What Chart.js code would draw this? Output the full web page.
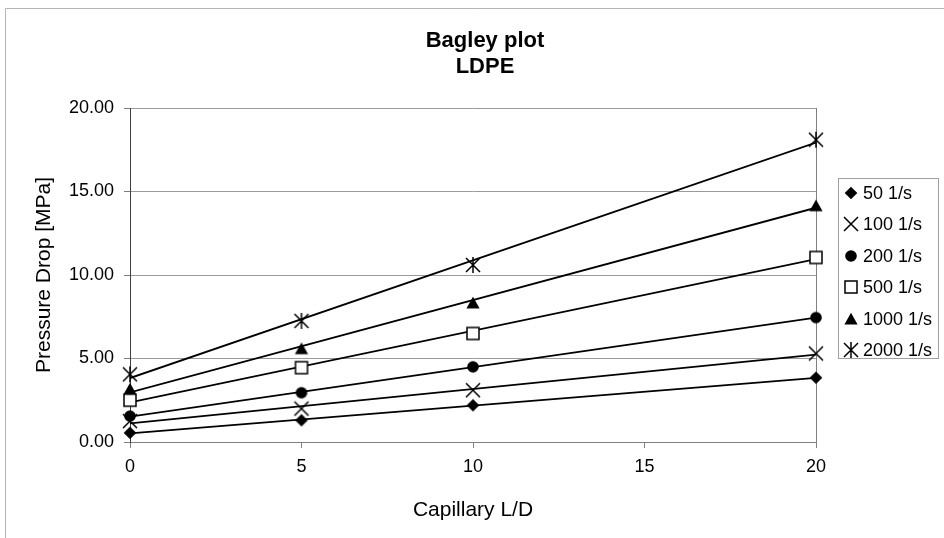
<!DOCTYPE html>
<html>
<head>
<meta charset="utf-8">
<title>Bagley plot LDPE</title>
<script src="https://cdn.jsdelivr.net/npm/chart.js@4/dist/chart.umd.min.js"></script>
<style>
  html, body { margin: 0; padding: 0; background: #fff; }
  canvas { display: block; }
</style>
</head>
<body>
<canvas id="bagley" width="944" height="538"></canvas>
<script>
// Capillary length-to-diameter ratios
const ldRatio = [0, 5, 10, 20];

// Series names (apparent shear rate)
const shearRates = ['50 1/s', '100 1/s', '200 1/s', '500 1/s', '1000 1/s', '2000 1/s'];

// Measured pressure drop [MPa] at each L/D
const p50   = [0.55, 1.30, 2.20, 3.85];
const p100  = [1.25, 2.00, 3.10, 5.30];
const p200  = [1.55, 2.95, 4.50, 7.45];
const p500  = [2.50, 4.45, 6.50, 11.05];
const p1000 = [3.17, 5.59, 8.33, 14.15];
const p2000 = [4.05, 7.25, 10.60, 18.10];

// Axis ticks
const xTicks = [0, 5, 10, 15, 20];
const yTicks = [0, 5, 10, 15, 20];

const seriesValues = [p50, p100, p200, p500, p1000, p2000];
const markerKinds = ['diamond', 'x', 'circle', 'square', 'triangle', 'star'];

const FONT = '"Liberation Sans", Arial, Helvetica, sans-serif';

// Small canvases used as point markers (and in the legend)
function makeMarker(kind) {
  const s = 24, m = s / 2;
  const c = document.createElement('canvas');
  c.width = s; c.height = s;
  const g = c.getContext('2d');
  g.fillStyle = '#000';
  g.strokeStyle = '#000';
  g.lineWidth = 1.5;
  g.beginPath();
  switch (kind) {
    case 'diamond':
      g.moveTo(m, m - 6.3); g.lineTo(m + 6.3, m); g.lineTo(m, m + 6.3); g.lineTo(m - 6.3, m);
      g.closePath(); g.fill();
      break;
    case 'x':
      g.moveTo(m - 7, m - 7); g.lineTo(m + 7, m + 7);
      g.moveTo(m + 7, m - 7); g.lineTo(m - 7, m + 7);
      g.stroke();
      break;
    case 'circle':
      g.arc(m, m, 5.8, 0, Math.PI * 2); g.fill();
      break;
    case 'square':
      g.rect(m - 6, m - 6, 12, 12);
      g.fillStyle = '#fff'; g.fill(); g.stroke();
      break;
    case 'triangle':
      g.moveTo(m, m - 6.2); g.lineTo(m + 6.6, m + 5.6); g.lineTo(m - 6.6, m + 5.6);
      g.closePath(); g.fill();
      break;
    case 'star':
      g.moveTo(m - 7, m - 7); g.lineTo(m + 7, m + 7);
      g.moveTo(m + 7, m - 7); g.lineTo(m - 7, m + 7);
      g.moveTo(m, m - 8); g.lineTo(m, m + 8);
      g.stroke();
      break;
  }
  return c;
}

// Least-squares straight line through a series
function linearFit(xs, ys) {
  const n = xs.length;
  const mx = xs.reduce((a, b) => a + b, 0) / n;
  const my = ys.reduce((a, b) => a + b, 0) / n;
  let sxy = 0, sxx = 0;
  for (let i = 0; i < n; i++) {
    sxy += (xs[i] - mx) * (ys[i] - my);
    sxx += (xs[i] - mx) * (xs[i] - mx);
  }
  const slope = sxy / sxx;
  return { slope, intercept: my - slope * mx };
}

const markers = markerKinds.map(makeMarker);
const xMin = xTicks[0], xMax = xTicks[xTicks.length - 1];

const pointSets = seriesValues.map((vals, i) => ({
  label: shearRates[i],
  data: ldRatio.map((x, k) => ({ x, y: vals[k] })),
  pointStyle: markers[i],
  pointRadius: 6,
  pointHoverRadius: 6,
  showLine: false,
  clip: false,
  order: 0
}));

const trendSets = seriesValues.map((vals, i) => {
  const f = linearFit(ldRatio, vals);
  return {
    label: shearRates[i] + ' trend',
    data: [
      { x: xMin, y: f.intercept + f.slope * xMin },
      { x: xMax, y: f.intercept + f.slope * xMax }
    ],
    showLine: true,
    borderColor: '#000',
    borderWidth: 1.8,
    pointRadius: 0,
    pointHoverRadius: 0,
    order: 1
  };
});

// Background, outer frame, plot-area right edge
const framePlugin = {
  id: 'frame',
  beforeDraw(chart) {
    const { ctx, width, height } = chart;
    ctx.save();
    ctx.fillStyle = '#fff';
    ctx.fillRect(0, 0, width, height);
    ctx.strokeStyle = '#b4b4b4';
    ctx.lineWidth = 1;
    ctx.beginPath();
    ctx.moveTo(5.5, height);
    ctx.lineTo(5.5, 8.5);
    ctx.lineTo(width, 8.5);
    ctx.stroke();
    ctx.restore();
  },
  beforeDatasetsDraw(chart) {
    const { ctx, chartArea: a } = chart;
    ctx.save();
    ctx.strokeStyle = '#808080';
    ctx.lineWidth = 1;
    ctx.beginPath();
    ctx.moveTo(Math.round(a.right) + 0.5, a.top);
    ctx.lineTo(Math.round(a.right) + 0.5, a.bottom);
    ctx.stroke();
    ctx.restore();
  }
};

// Two-line heading
const headingPlugin = {
  id: 'heading',
  afterDraw(chart) {
    const { ctx } = chart;
    ctx.save();
    ctx.fillStyle = '#000';
    ctx.font = 'bold 22px ' + FONT;
    ctx.textAlign = 'center';
    ctx.textBaseline = 'alphabetic';
    ctx.fillText('Bagley plot', 485, 47);
    ctx.fillText('LDPE', 485, 73);
    ctx.restore();
  }
};

// Boxed legend at the right
const boxLegendPlugin = {
  id: 'boxLegend',
  afterDraw(chart) {
    const { ctx } = chart;
    const left = 838, top = 178, w = 100, h = 180;
    ctx.save();
    ctx.strokeStyle = '#a0a0a0';
    ctx.lineWidth = 1;
    ctx.strokeRect(left + 0.5, top + 0.5, w, h);
    ctx.font = '18px ' + FONT;
    ctx.fillStyle = '#000';
    ctx.textAlign = 'left';
    ctx.textBaseline = 'middle';
    pointSets.forEach((ds, i) => {
      const cy = 193 + i * 31.4;
      const mk = ds.pointStyle;
      ctx.drawImage(mk, 851 - mk.width / 2, Math.round(cy) - mk.height / 2);
      ctx.fillText(ds.label, 863, cy + 1);
    });
    ctx.restore();
  }
};

new Chart(document.getElementById('bagley'), {
  type: 'scatter',
  data: { datasets: [...pointSets, ...trendSets] },
  options: {
    responsive: false,
    animation: false,
    events: [],
    layout: { padding: { top: 108, right: 128, bottom: 0, left: 0 } },
    plugins: {
      legend: { display: false },
      title: { display: false },
      tooltip: { enabled: false }
    },
    scales: {
      x: {
        type: 'linear',
        min: xMin,
        max: xMax,
        afterFit(scale) { scale.height = 96; },
        afterBuildTicks(scale) { scale.ticks = xTicks.map(v => ({ value: v })); },
        grid: { drawOnChartArea: false, drawTicks: true, tickLength: 6, tickColor: '#808080' },
        border: { color: '#808080', width: 1 },
        ticks: { color: '#000', font: { family: FONT, size: 18 }, padding: 8, maxRotation: 0 },
        title: {
          display: true,
          text: 'Capillary L/D',
          color: '#000',
          font: { family: FONT, size: 21 },
          padding: { top: 0, bottom: 15 }
        }
      },
      y: {
        type: 'linear',
        min: yTicks[0],
        max: yTicks[yTicks.length - 1],
        afterFit(scale) { scale.width = 130; },
        afterBuildTicks(scale) { scale.ticks = yTicks.map(v => ({ value: v })); },
        grid: { color: '#9a9a9a', lineWidth: 1, drawTicks: true, tickLength: 6, tickColor: '#808080' },
        border: { color: '#404040', width: 1 },
        ticks: {
          color: '#000',
          font: { family: FONT, size: 18 },
          padding: 10,
          callback: v => Number(v).toFixed(2)
        },
        title: {
          display: true,
          text: 'Pressure Drop [MPa]',
          color: '#000',
          font: { family: FONT, size: 21 },
          padding: { top: 32, bottom: 0 }
        }
      }
    }
  },
  plugins: [framePlugin, headingPlugin, boxLegendPlugin]
});
</script>
</body>
</html>
